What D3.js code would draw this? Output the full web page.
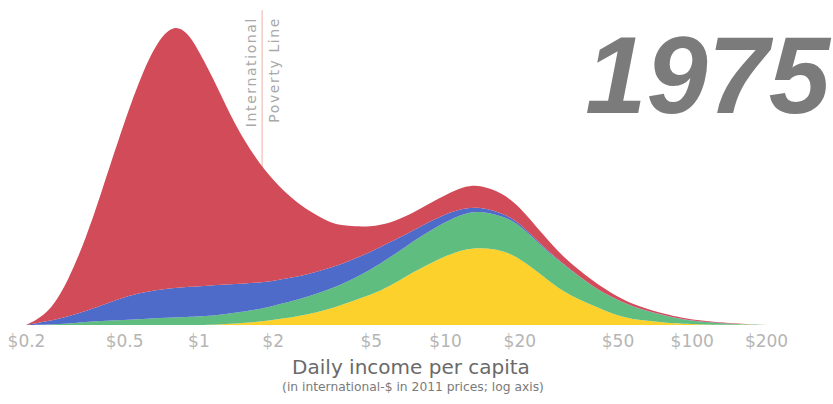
<!DOCTYPE html>
<html>
<head>
<meta charset="utf-8">
<script src="https://cdn.jsdelivr.net/npm/d3@7"></script>
<style>
  html, body { margin: 0; padding: 0; background: #fff; }
  svg { display: block; }
</style>
</head>
<body>
<div id="chart"></div>
<script>
// daily income (international-$), sample points along the log axis
const incomes = [0.2, 0.25, 0.3, 0.35, 0.4, 0.5, 0.6, 0.7, 0.8, 0.9, 1, 1.2, 1.4, 1.7, 2, 2.5, 3, 3.5, 4, 5, 6, 7, 8, 10, 12, 14, 17, 20, 25, 30, 40, 50, 60, 80, 100, 150, 200];

// people per income bin (stack order bottom -> top)
const europe   = [0, 0, 0, 0, 0, 0, 0, 0, 0, 0, 0, 0.5, 1.5, 3, 5, 8.5, 12.5, 17, 22, 30, 39, 49, 57, 69, 76, 77.5, 75, 67, 49, 33, 19, 9, 5, 2, 0.8, 0, 0];
const americas = [0, 0.5, 1.5, 3, 4, 5, 6, 7, 7.5, 8, 8.5, 9.5, 10.5, 12, 14, 16.5, 18.5, 20, 21, 25, 29, 30, 32, 34, 36, 36.5, 34, 34, 28, 28, 18, 16, 11.5, 6.5, 3, 0.8, 0];
const africa   = [0, 3.5, 7.5, 11, 15, 23, 27, 28.5, 29.5, 30, 30, 30, 29, 27, 25, 23, 22, 21, 20, 18, 15, 12, 10, 8, 5, 4, 3, 2, 1, 0.5, 0.3, 0.2, 0.2, 0.2, 0.1, 0.1, 0];
const asia     = [0, 8, 38, 73, 110, 175, 223, 252.5, 263, 255, 236.5, 197, 160, 125, 101, 74, 57, 43, 36, 25, 19, 18, 18, 19, 22, 22, 20, 16, 12, 6.5, 5.7, 2.8, 2.3, 1.3, 1.1, 0.5, 0];

const regions = ['Europe', 'Americas', 'Africa', 'Asia'];
const colors = ['#fdd12c', '#5fbd7f', '#4f6bc9', '#d14b58'];
const tickValues = [0.2, 0.5, 1, 2, 5, 10, 20, 50, 100, 200];
const povertyLine = 1.9;
const year = '1975';

const width = 833,
    height = 404,
    baseline = 325;

const table = incomes.map((v, i) => ({
    income: v,
    Europe: europe[i],
    Americas: americas[i],
    Africa: africa[i],
    Asia: asia[i]
}));

const x = d3.scaleLog()
    .domain([0.2, 200])
    .range([26, 766]);

const y = d3.scaleLinear()
    .domain([0, 300])
    .range([baseline, 25]);

const z = d3.scaleOrdinal()
    .domain(regions)
    .range(colors);

const svg = d3.select('#chart')
    .append('svg')
    .attr('width', width)
    .attr('height', height)
    .style('font-family', '"DejaVu Sans", sans-serif');

// poverty line sits behind the mountain
svg.append('line')
    .attr('x1', x(povertyLine) - 5)
    .attr('x2', x(povertyLine) - 5)
    .attr('y1', 10)
    .attr('y2', baseline)
    .attr('stroke', '#f1cbc4')
    .attr('stroke-width', 1.5);

// basis curve keeps the stacked edges from crossing
const area = d3.area()
    .x(d => x(d.data.income))
    .y0(d => y(d[0]))
    .y1(d => y(d[1]))
    .curve(d3.curveBasis);

svg.append('g')
    .selectAll('path')
    .data(d3.stack().keys(regions)(table))
    .join('path')
    .attr('fill', d => z(d.key))
    .attr('d', area);

// poverty line label, two rotated lines
const povLabel = svg.append('g')
    .attr('fill', '#a8a8a8')
    .style('font-size', '14px')
    .style('letter-spacing', '1.6px')
    .attr('text-anchor', 'end');

povLabel.append('text')
    .attr('transform', `translate(${x(povertyLine) - 11},17) rotate(-90)`)
    .text('International');

povLabel.append('text')
    .attr('transform', `translate(${x(povertyLine) + 12},17) rotate(-90)`)
    .text('Poverty Line');

// x axis
const xAxis = d3.axisBottom(x)
    .tickValues(tickValues)
    .tickFormat(d => '$' + d)
    .tickSize(0)
    .tickPadding(10);

svg.append('g')
    .attr('transform', `translate(0,${baseline})`)
    .call(xAxis)
    .call(g => g.select('.domain').remove())
    .call(g => g.selectAll('text')
        .attr('fill', '#b5b5b5')
        .style('font-size', '17px')
        .style('font-family', '"DejaVu Sans", sans-serif'));

svg.append('text')
    .attr('x', 411)
    .attr('y', 374)
    .attr('text-anchor', 'middle')
    .attr('fill', '#6a6a6a')
    .style('font-size', '20px')
    .text('Daily income per capita');

svg.append('text')
    .attr('x', 413)
    .attr('y', 391)
    .attr('text-anchor', 'middle')
    .attr('fill', '#7a7a7a')
    .style('font-size', '12.3px')
    .text('(in international-$ in 2011 prices; log axis)');

svg.append('text')
    .attr('x', 830)
    .attr('y', 113)
    .attr('text-anchor', 'end')
    .attr('fill', '#7b7b7b')
    .style('font-family', '"Liberation Sans", Arial, sans-serif')
    .style('font-weight', 'bold')
    .style('font-style', 'italic')
    .style('font-size', '110px')
    .text(year);
</script>
</body>
</html>
